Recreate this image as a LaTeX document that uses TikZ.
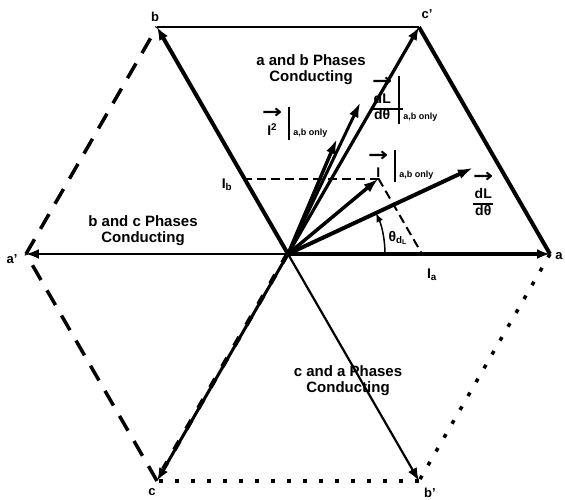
\documentclass[tikz,border=0pt]{standalone}
\usepackage{amsmath}
\usepackage{array}
\usepackage{fontspec}
\setmainfont{Liberation Sans}
\newfontfamily\arrowfont{DejaVu Sans}
\usetikzlibrary{arrows.meta,calc}
\tikzset{
  hexdash/.style={line width=3.5pt,dash pattern=on 17pt off 12pt},
  hexdot/.style={line width=3.5pt,dash pattern=on 4pt off 12pt},
  phasor/.style={-{Latex[length=13pt,width=10pt]}},
  vecflow/.style={-{Latex[length=15pt,width=10pt]},line width=3.5pt},
  projline/.style={line width=2pt,dash pattern=on 9pt off 5pt},
  conlabel/.style={font=\bfseries\fontsize{15}{16}\selectfont,align=center,inner sep=1pt},
  vxlabel/.style={font=\bfseries\fontsize{13}{15}\selectfont,inner sep=0pt},
  veclabel/.style={font=\bfseries\fontsize{14}{16}\selectfont,inner sep=0pt},
}
\newcommand{\onlyab}{{\fontsize{9}{10}\selectfont a,b only}}
\newcommand{\overarr}{{\arrowfont\bfseries\fontsize{16}{16}\selectfont\scalebox{1.5}[1.2]{→}}}
\setlength{\arrayrulewidth}{1.6pt}

\begin{document}
\begin{tikzpicture}[x=1pt,y=1pt]
\useasboundingbox (-288,-246) rectangle (277,254);
% hexagon corners
\coordinate (O) at (0,0);
\coordinate (a) at (0:262);
\coordinate (cp) at (60:262);
\coordinate (b) at (120:262);
\coordinate (ap) at (180:262);
\coordinate (c) at (240:262);
\coordinate (bp) at (300:262);
% hexagon sides
\draw[line width=2.5pt] (b) -- (cp);
\draw[line width=4pt] (cp) -- (a);
\draw[hexdot] (a) -- (bp);
\draw[hexdot] (bp) -- (c);
\draw[hexdash] (c) -- (ap);
\draw[hexdash] (ap) -- (b);
% phase axes
\draw[phasor,line width=4.5pt] (O) -- (a);
\draw[phasor,line width=2pt] (O) -- (ap);
\draw[phasor,line width=4pt] (O) -- (b);
\draw[phasor,line width=2.2pt] (O) -- (bp);
\draw[phasor,line width=3.2pt] (O) -- (cp);
\draw[phasor,line width=3pt] (O) -- (c);
\draw[line width=4.5pt,dash pattern=on 10pt off 14pt,shorten >=14pt,transform canvas={xshift=-0.6pt}] (O) -- (c);
% current and inductance vectors
\coordinate (Ia) at (134,0);
\coordinate (Ib) at (120:87);
\coordinate (I) at ($(Ia)+(Ib)$);
\coordinate (I2) at (67:125);
\coordinate (dLab) at (64.5:168);
\coordinate (dL) at (25:204);
\draw[projline] (I) -- ($(Ib)+(-4,0)$);
\draw[projline] (I) -- (Ia);
\draw[vecflow] (O) -- (I2);
\draw[vecflow,line width=3pt] (O) -- (dLab);
\draw[vecflow] (O) -- (I);
\draw[vecflow,line width=4pt] (O) -- (dL);
\draw[-{Latex[length=9pt,width=7pt]},line width=1.5pt] (0:97) arc[start angle=0,end angle=25,radius=97];
% labels
\node[vxlabel] (lb) at (-133,237) {b};
\node[vxlabel] (lcp) at (139,240) {c'};
\node[vxlabel] (la) at (271,-2) {a};
\node[vxlabel] (lap) at (-276,-5) {a'};
\node[vxlabel] (lc) at (-136,-238) {c};
\node[vxlabel] (lbp) at (142,-239) {b'};
\node[conlabel] (ab) at (23,184) {a and b Phases\\Conducting};
\node[conlabel] (bc) at (-145,23) {b and c Phases\\Conducting};
\node[conlabel] (ca) at (60,-127) {c and a Phases\\Conducting};
\node[veclabel,anchor=north west] (lI2) at (-26,147) {%
  \begin{tabular}{@{}c!{\vrule width 2pt}@{\hspace{3pt}}l@{}}
  \overarr & \\
  I\textsuperscript{2} & \onlyab
  \end{tabular}};
\node[veclabel,anchor=north west] (ldLab) at (84,178) {%
  \begin{tabular}{@{}c!{\vrule width 2pt}@{\hspace{3pt}}l@{}}
  \overarr & \\
  dL & \\ \cline{1-1}
  dθ & \onlyab
  \end{tabular}};
\node[veclabel,anchor=north west] (lI) at (80,104) {%
  \begin{tabular}{@{}c!{\vrule width 2pt}@{\hspace{3pt}}l@{}}
  \overarr & \\
  I & \onlyab
  \end{tabular}};
\node[veclabel,anchor=north west] (ldL) at (185,83) {%
  \begin{tabular}{@{}c@{}}
  \overarr \\
  dL \\ \hline
  dθ
  \end{tabular}};
\node[veclabel] (lth) at (110,16) {θ$_{\text{d}_{\text{L}}}$};
\node[veclabel] (lIb) at (-61,69) {I$_{\text{b}}$};
\node[veclabel] (lIa) at (144,-21) {I$_{\text{a}}$};
\end{tikzpicture}
\end{document}
